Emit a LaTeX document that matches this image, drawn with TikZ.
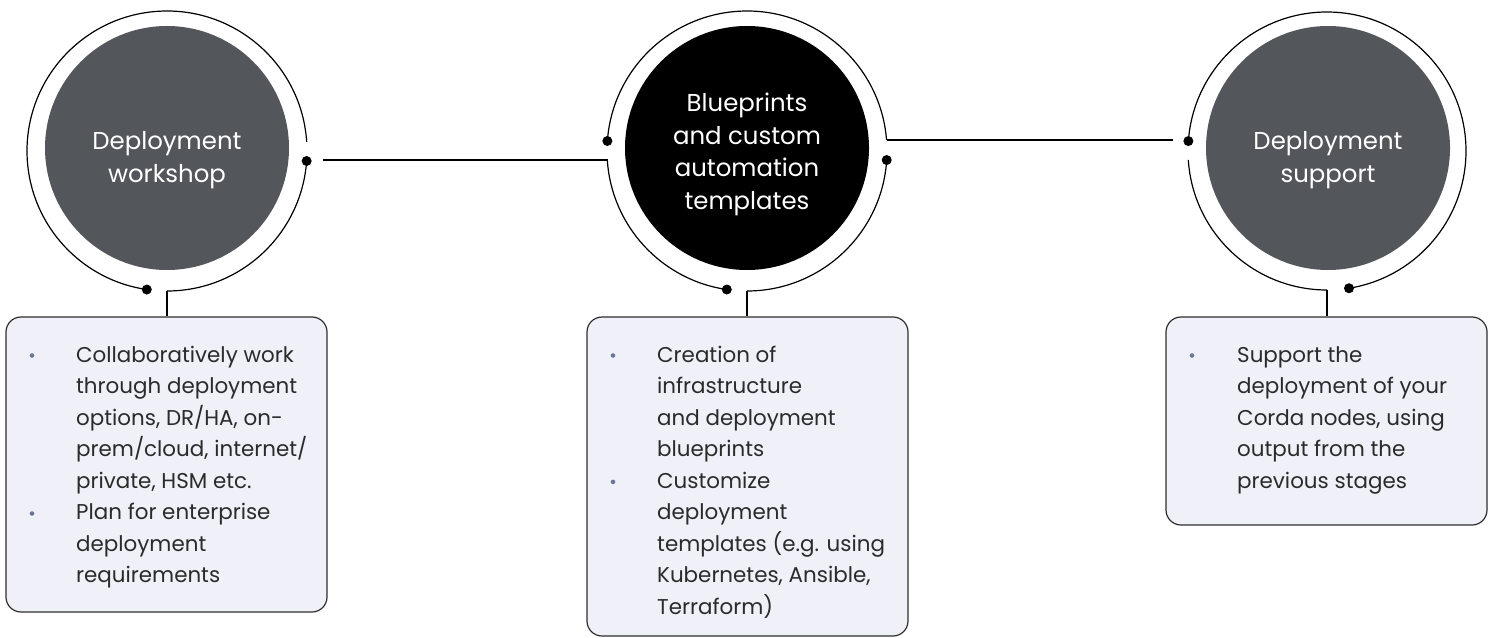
\documentclass[tikz,border=0pt]{standalone}
\usepackage{fontspec}
\setmainfont{Poppins}
\usetikzlibrary{calc}
\definecolor{discgray}{HTML}{53575C}
\definecolor{boxfill}{HTML}{EFF0F8}
\definecolor{boxline}{HTML}{2E2E2E}
\definecolor{bulletc}{HTML}{6A7894}
\definecolor{textc}{HTML}{2B2B2B}
\begin{document}
\begin{tikzpicture}[x=1bp,y=-1bp,
  ring/.style={line width=1.2bp, draw=black},
  link/.style={line width=1.3bp, draw=black},
  dotmark/.style={fill=black, circle, inner sep=0pt, minimum size=10bp},
  disc/.style={circle, inner sep=0pt, minimum size=244bp},
  infobox/.style={draw=boxline, fill=boxfill, line width=1.2bp, rounded corners=15bp, inner sep=0pt, minimum width=321bp},
  circtext/.style={text=white, align=center, inner sep=0pt, anchor=north, font=\fontsize{24.5}{33}\selectfont},
  boxtext/.style={text=textc, align=left, inner sep=0pt, anchor=north west, font=\fontsize{21.5}{31.6}\selectfont},
  bulletdot/.style={fill=bulletc, circle, inner sep=0pt, minimum size=4.6bp},
]
\useasboundingbox (0,0) rectangle (1494,638);

% ---------- discs ----------
\node[disc, fill=discgray] (d1) at (167,148) {};
\node[disc, fill=black]    (d2) at (747,148) {};
\node[disc, fill=discgray] (d3) at (1328,148) {};

\node[circtext] (t1) at (167,129) {\rule{0pt}{20bp}Deployment\\workshop};
\node[circtext] (t2) at (747,91)  {\rule{0pt}{20bp}Blueprints\\and custom\\automation\\templates};
\node[circtext] (t3) at (1328,129) {\rule{0pt}{20bp}Deployment\\support};

% ---------- ring centres ----------
\coordinate (r1) at (167,151);
\coordinate (r2) at (747,151);
\coordinate (r3) at (1327,151);

% ---------- ring points ----------
\coordinate (r1a) at ($(r1)+(-3.7:140)$);
\coordinate (r1b) at ($(r1)+(90:140)$);
\coordinate (r1dr) at ($(r1)+(4.1:140)$);
\coordinate (r1db) at ($(r1)+(98.3:140)$);

\coordinate (r2jr) at ($(r2)+(-4.5:140)$);
\coordinate (r2jl) at ($(r2)+(176.3:140)$);
\coordinate (r2jb) at ($(r2)+(90:140)$);
\coordinate (r2dl) at ($(r2)+(184.1:140)$);
\coordinate (r2db) at ($(r2)+(98.3:140)$);
\coordinate (r2dr) at ($(r2)+(3.7:140)$);

\coordinate (r3dl) at ($(r3)+(184.1:139)$);
\coordinate (r3db) at ($(r3)+(80.9:139)$);
\coordinate (r3jb) at ($(r3)+(90:139)$);

% ---------- rings ----------
\draw[ring] (r1a) arc[start angle=-3.7, end angle=-261.7, radius=140];
\draw[ring] (r1b) arc[start angle=90, end angle=4.1, radius=140];

\draw[ring] (r2jr) arc[start angle=-4.5, end angle=-175.9, radius=140];
\draw[ring] (r2jl) arc[start angle=176.3, end angle=98.3, radius=140];
\draw[ring] (r2jb) arc[start angle=90, end angle=3.7, radius=140];

\draw[ring] (r3dl) arc[start angle=184.1, end angle=440.9, radius=139];
\draw[ring] (r3jb) arc[start angle=90, end angle=176.3, radius=139];

% ---------- dots ----------
\node[dotmark] (p1) at (r1dr) {};
\node[dotmark] (p2) at (r1db) {};
\node[dotmark] (p3) at (r2dl) {};
\node[dotmark] (p4) at (r2db) {};
\node[dotmark] (p5) at (r2dr) {};
\node[dotmark] (p6) at (r3dl) {};
\node[dotmark] (p7) at (r3db) {};

% ---------- horizontal links ----------
\coordinate (l1s) at (323,160);
\coordinate (l2e) at (1173,140);
\draw[link] (l1s) -- (l1s -| r2jl) -- (r2jl);
\draw[link] (r2jr) -- (r2jr -| l2e);

% ---------- boxes ----------
\node[infobox, minimum height=295bp] (b1) at (166.5,464.5) {};
\node[infobox, minimum height=319bp] (b2) at (747.5,476.5) {};
\node[infobox, minimum height=208bp] (b3) at (1326.5,421) {};

\draw[link] (r1b) -- (r1b |- b1.north);
\draw[link] (r2jb) -- (r2jb |- b2.north);
\draw[link] (r3jb) -- (r3jb |- b3.north);

% ---------- box texts ----------
\node[boxtext] (x1) at (76,344) {\rule{0pt}{18bp}Collaboratively work\\through deployment\\options, DR/HA, on-\\prem/cloud, internet/\\private, HSM etc.\\Plan for enterprise\\deployment\\requirements};
\node[bulletdot] (u1) at (32,355.5) {};
\node[bulletdot] (u2) at (32,513.5) {};

\node[boxtext] (x2) at (657,344) {\rule{0pt}{18bp}Creation of\\infrastructure\\and deployment\\blueprints\\Customize\\deployment\\templates (e.g. using\\Kubernetes, Ansible,\\Terraform)};
\node[bulletdot] (u3) at (613,355.5) {};
\node[bulletdot] (u4) at (613,481.9) {};

\node[boxtext] (x3) at (1237,344) {\rule{0pt}{18bp}Support the\\deployment of your\\Corda nodes, using\\output from the\\previous stages};
\node[bulletdot] (u5) at (1192,355.5) {};
\end{tikzpicture}
\end{document}
